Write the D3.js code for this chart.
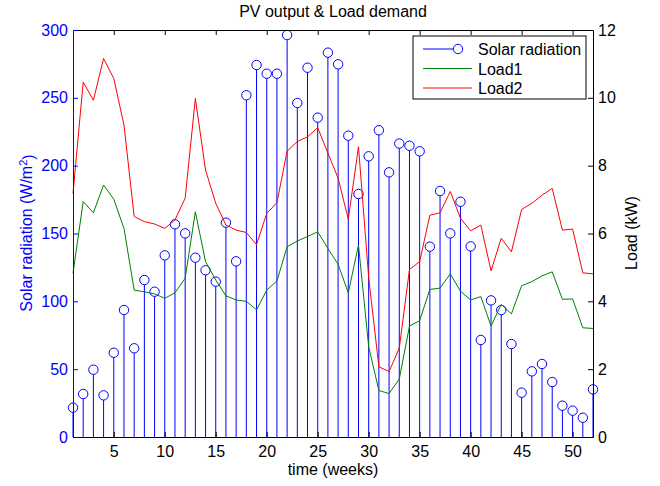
<!DOCTYPE html>
<head>
<meta charset="utf-8">
<title>PV output & Load demand</title>
<script src="https://cdn.jsdelivr.net/npm/d3@7"></script>
<style>
  body { margin: 0; background: #fff; }
  text { font-family: "Liberation Sans", Arial, sans-serif; }
</style>
</head>
<body>
<div id="chart"></div>
<script>

// weekly values
var weeks = [1,2,3,4,5,6,7,8,9,10,11,12,13,14,15,16,17,18,19,20,21,22,23,24,25,26,
             27,28,29,30,31,32,33,34,35,36,37,38,39,40,41,42,43,44,45,46,47,48,49,50,51,52];

var solar = [21.6, 31.7, 49.6, 30.7, 62.1, 93.6, 65.4, 115.7, 107.1, 133.9,
             156.8, 150.1, 132.2, 122.9, 114.5, 158, 129.5, 251.9, 274.2, 267.8,
             267.8, 296.3, 246.2, 272.2, 235.4, 283.3, 274.7, 222.1, 179.1, 206.9,
             226.1, 195.1, 216.3, 214.7, 210.6, 140.3, 181.3, 150.1, 173.4, 140.5,
             71.5, 100.7, 93.6, 68.5, 32.7, 48.4, 53.8, 40.5, 23.1, 19.4, 14.2, 35.1];

var load1 = [4.83, 6.94, 6.61, 7.43, 7.01, 6.15, 4.33, 4.28, 4.22, 4.09,
             4.25, 4.68, 6.64, 5.17, 4.63, 4.16, 4.04, 4.00, 3.75, 4.33,
             4.60, 5.61, 5.78, 5.91, 6.05, 5.56, 5.09, 4.25, 5.66, 2.66,
             1.37, 1.28, 1.71, 3.27, 3.43, 4.35, 4.39, 4.81, 4.30, 4.04,
             4.14, 3.27, 3.91, 3.63, 4.46, 4.58, 4.75, 4.87, 4.06, 4.07, 3.22, 3.20];

var load2 = [7.18, 10.46, 9.93, 11.16, 10.57, 9.20, 6.50, 6.35, 6.28, 6.15,
             6.40, 7.04, 9.98, 7.87, 6.89, 6.25, 6.10, 6.03, 5.67, 6.59,
             6.91, 8.43, 8.71, 8.85, 9.12, 8.37, 7.63, 6.42, 8.56, 4.70,
             2.07, 1.93, 2.62, 4.94, 5.17, 6.54, 6.61, 7.24, 6.45, 6.08,
             6.25, 4.90, 5.86, 5.46, 6.71, 6.89, 7.13, 7.33, 6.10, 6.13, 4.84, 4.81];

var xTicks = [5,10,15,20,25,30,35,40,45,50];
var leftTicks = [0,50,100,150,200,250,300];
var rightTicks = [0,2,4,6,8,10,12];

var margin = {top: 30, right: 67, bottom: 49, left: 73},
    width = 660 - margin.left - margin.right,
    height = 486 - margin.top - margin.bottom;

var svg = d3.select("#chart")
  .append("svg")
    .attr("width", 660)
    .attr("height", 486)
  .append("g")
    .attr("transform", "translate(" + margin.left + "," + margin.top + ")");

var x = d3.scaleLinear().domain([1, 52]).range([0, width]);
var yL = d3.scaleLinear().domain([0, 300]).range([height, 0]);
var yR = d3.scaleLinear().domain([0, 12]).range([height, 0]);

var blue = "#0000ff", green = "#008000", red = "#ff0000";
var r = 4.7;

// stems
svg.selectAll(".stem")
  .data(weeks)
  .enter()
  .append("line")
    .attr("class", "stem")
    .attr("x1", function(d) { return x(d); })
    .attr("x2", function(d) { return x(d); })
    .attr("y1", yL(0))
    .attr("y2", function(d, i) { return yL(solar[i]) + r; })
    .style("stroke", blue)
    .style("stroke-width", 1);

svg.selectAll(".mark")
  .data(weeks)
  .enter()
  .append("circle")
    .attr("class", "mark")
    .attr("cx", function(d) { return x(d); })
    .attr("cy", function(d, i) { return yL(solar[i]); })
    .attr("r", r)
    .style("fill", "none")
    .style("stroke", blue)
    .style("stroke-width", 1);

// load lines
var line1 = d3.line()
  .x(function(d) { return x(d); })
  .y(function(d, i) { return yR(load1[i]); });
var line2 = d3.line()
  .x(function(d) { return x(d); })
  .y(function(d, i) { return yR(load2[i]); });

svg.append("path")
  .datum(weeks)
  .attr("d", line1)
  .style("fill", "none")
  .style("stroke", green)
  .style("stroke-width", 1);

svg.append("path")
  .datum(weeks)
  .attr("d", line2)
  .style("fill", "none")
  .style("stroke", red)
  .style("stroke-width", 1);

// axes, ticks pointing inward like matlab
var bottomAxis = svg.append("g")
  .attr("transform", "translate(0," + height + ")")
  .call(d3.axisBottom(x).tickValues(xTicks).tickSizeInner(-5).tickSizeOuter(0).tickPadding(9));

svg.append("g")
  .call(d3.axisTop(x).tickValues(xTicks).tickSizeInner(-5).tickSizeOuter(0).tickFormat(""));

var leftAxis = svg.append("g")
  .call(d3.axisLeft(yL).tickValues(leftTicks).tickSizeInner(-5).tickSizeOuter(0).tickPadding(5));

var rightAxis = svg.append("g")
  .attr("transform", "translate(" + width + ",0)")
  .call(d3.axisRight(yR).tickValues(rightTicks).tickSizeInner(-5).tickSizeOuter(0).tickPadding(5));

svg.selectAll(".tick text")
  .style("font-size", "16px")
  .style("font-family", "'Liberation Sans', Arial, sans-serif");

bottomAxis.selectAll("path, line").style("stroke", "#000");
bottomAxis.selectAll("text").style("fill", "#000");
rightAxis.selectAll("path, line").style("stroke", "#000");
rightAxis.selectAll("text").style("fill", "#000");
leftAxis.selectAll("path, line").style("stroke", blue);
leftAxis.selectAll("text").style("fill", blue);

// title and labels
svg.append("text")
  .attr("x", width / 2)
  .attr("y", -13)
  .style("text-anchor", "middle")
  .style("font-size", "16px")
  .text("PV output & Load demand");

svg.append("text")
  .attr("x", width / 2)
  .attr("y", height + 38)
  .style("text-anchor", "middle")
  .style("font-size", "16px")
  .text("time (weeks)");

var yLabel = svg.append("text")
  .attr("transform", "translate(" + (32 - margin.left) + "," + (233 - margin.top) + ")rotate(-90)")
  .style("text-anchor", "middle")
  .style("font-size", "16px")
  .style("fill", blue);
yLabel.append("tspan").text("Solar radiation (W/m");
yLabel.append("tspan").attr("dy", "-0.45em").style("font-size", "11px").text("2");
yLabel.append("tspan").attr("dy", "0.45em").text(")");

svg.append("text")
  .attr("transform", "translate(" + (637 - margin.left) + "," + (233 - margin.top) + ")rotate(-90)")
  .style("text-anchor", "middle")
  .style("font-size", "16px")
  .style("fill", "#000")
  .text("Load (kW)");

// legend
var legend = svg.append("g")
  .attr("transform", "translate(" + (413 - margin.left) + "," + (36 - margin.top) + ")");

legend.append("rect")
  .attr("width", 173)
  .attr("height", 63)
  .style("fill", "#fff")
  .style("stroke", "#000")
  .style("stroke-width", 1);

var legendItems = ["Solar radiation", "Load1", "Load2"];
var legendColors = [blue, green, red];

legendItems.forEach(function(name, i) {
  var ly = 13 + i * 19.5;
  legend.append("line")
    .attr("x1", 10)
    .attr("x2", i == 0 ? 40 : 59)
    .attr("y1", ly)
    .attr("y2", ly)
    .style("stroke", legendColors[i])
    .style("stroke-width", 1);
  if (i == 0) {
    legend.append("circle")
      .attr("cx", 45)
      .attr("cy", ly)
      .attr("r", r)
      .style("fill", "none")
      .style("stroke", blue);
  }
  legend.append("text")
    .attr("x", 65)
    .attr("y", ly + 6)
    .style("font-size", "16px")
    .text(name);
});

</script>
</body>
